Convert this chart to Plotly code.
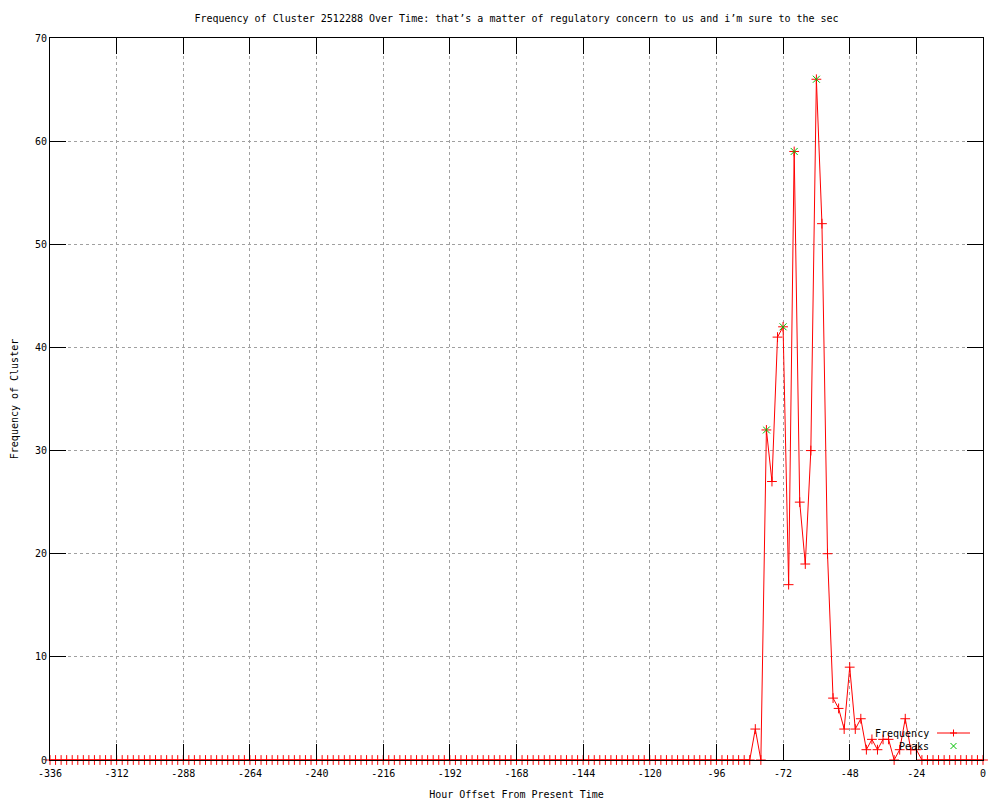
import plotly.graph_objects as go

# ---------------- data ----------------
hours = list(range(-336, 1, 2))  # hour offsets, one sample every 2 hours

frequency = [
    # -336 .. -84 : all zero
    0, 0, 0, 0, 0, 0, 0, 0, 0, 0, 0, 0, 0, 0, 0, 0, 0, 0, 0, 0,
    0, 0, 0, 0, 0, 0, 0, 0, 0, 0, 0, 0, 0, 0, 0, 0, 0, 0, 0, 0,
    0, 0, 0, 0, 0, 0, 0, 0, 0, 0, 0, 0, 0, 0, 0, 0, 0, 0, 0, 0,
    0, 0, 0, 0, 0, 0, 0, 0, 0, 0, 0, 0, 0, 0, 0, 0, 0, 0, 0, 0,
    0, 0, 0, 0, 0, 0, 0, 0, 0, 0, 0, 0, 0, 0, 0, 0, 0, 0, 0, 0,
    0, 0, 0, 0, 0, 0, 0, 0, 0, 0, 0, 0, 0, 0, 0, 0, 0, 0, 0, 0,
    0, 0, 0, 0, 0, 0, 0,
    # -82 .. 0
    3, 0, 32, 27, 41, 42, 17, 59, 25, 19,
    30, 66, 52, 20, 6, 5, 3, 9, 3, 4,
    1, 2, 1, 2, 2, 0, 1, 4, 1, 1,
    0, 0, 0, 0, 0, 0, 0, 0, 0, 0, 0, 0,
]

peak_hours = [-78, -72, -68, -60]
peak_values = [32, 42, 59, 66]

x_tick_vals = [-336, -312, -288, -264, -240, -216, -192, -168, -144, -120, -96, -72, -48, -24, 0]
x_tick_text = ["-336", "-312", "-288", "-264", "-240", "-216", "-192", "-168", "-144",
               "-120", "-96", "-72", "-48", "-24", "0"]
y_tick_vals = [0, 10, 20, 30, 40, 50, 60, 70]

title_text = ("Frequency of Cluster 2512288 Over Time: that\u2019s a matter of regulatory "
              "concern to us and i\u2019m sure to the sec")

FONT = "DejaVu Sans Mono"
RED = "#ff0000"
GREEN = "#00c000"

fig = go.Figure()
fig.add_trace(go.Scatter(
    x=hours, y=frequency, mode="lines+markers", name="Frequency",
    line=dict(color=RED, width=1),
    marker=dict(symbol="cross-thin", size=7, line=dict(color=RED, width=1), color=RED),
    cliponaxis=False, showlegend=False,
))
fig.add_trace(go.Scatter(
    x=peak_hours, y=peak_values, mode="markers", name="Peaks",
    marker=dict(symbol="x-thin", size=7, line=dict(color=GREEN, width=1), color=GREEN),
    cliponaxis=False, showlegend=False,
))

axis_common = dict(
    showline=True, linecolor="black", linewidth=1, mirror="allticks",
    ticks="inside", ticklen=16, tickcolor="black", tickwidth=1,
    showgrid=True, gridcolor="#a0a0a0", gridwidth=1, griddash="dot",
    zeroline=False, tickfont=dict(family=FONT, size=10, color="black"),
)

fig.update_xaxes(range=[-336, 0], tickvals=x_tick_vals, ticktext=x_tick_text,
                 ticklabelstandoff=4,
                 title=dict(text="Hour Offset From Present Time",
                            font=dict(family=FONT, size=10, color="black"), standoff=12),
                 **axis_common)
fig.update_yaxes(range=[0, 70], tickvals=y_tick_vals,
                 title=dict(text="Frequency of Cluster",
                            font=dict(family=FONT, size=10, color="black"), standoff=14),
                 **axis_common)

# legend drawn gnuplot-style (text left, key sample right), in paper coordinates
L, R, T, B = 50, 983, 38, 760
def px(xp):
    return (xp - L) / (R - L)
def py(yp):
    return (B - yp) / (B - T)

annotations = [
    dict(text="Frequency", x=px(931), y=py(733), xref="paper", yref="paper",
         xanchor="right", yanchor="middle", showarrow=False,
         font=dict(family=FONT, size=10, color="black")),
    dict(text="Peaks", x=px(931), y=py(746), xref="paper", yref="paper",
         xanchor="right", yanchor="middle", showarrow=False,
         font=dict(family=FONT, size=10, color="black")),
]
shapes = [
    dict(type="line", xref="paper", yref="paper", x0=px(937), x1=px(970), y0=py(733), y1=py(733),
         line=dict(color=RED, width=1)),
    dict(type="line", xref="paper", yref="paper", x0=px(950), x1=px(957), y0=py(733), y1=py(733),
         line=dict(color=RED, width=1)),
    dict(type="line", xref="paper", yref="paper", x0=px(953.5), x1=px(953.5), y0=py(729.5), y1=py(736.5),
         line=dict(color=RED, width=1)),
    dict(type="line", xref="paper", yref="paper", x0=px(950.5), x1=px(956.5), y0=py(743), y1=py(749),
         line=dict(color=GREEN, width=1)),
    dict(type="line", xref="paper", yref="paper", x0=px(950.5), x1=px(956.5), y0=py(749), y1=py(743),
         line=dict(color=GREEN, width=1)),
]

fig.update_layout(
    width=1000, height=800,
    margin=dict(l=L, r=1000 - R, t=T, b=800 - B, autoexpand=False),
    paper_bgcolor="white", plot_bgcolor="white",
    title=dict(text=title_text, x=0.5, xref="paper", xanchor="center",
               y=1 - 18 / 800, yref="container", yanchor="middle",
               font=dict(family=FONT, size=10, color="black")),
    font=dict(family=FONT, size=10, color="black"),
    annotations=annotations, shapes=shapes, showlegend=False,
)

fig.write_html("out.html", config={"displayModeBar": False},
               post_script="document.body.style.margin='0';document.body.style.overflow='hidden';")
